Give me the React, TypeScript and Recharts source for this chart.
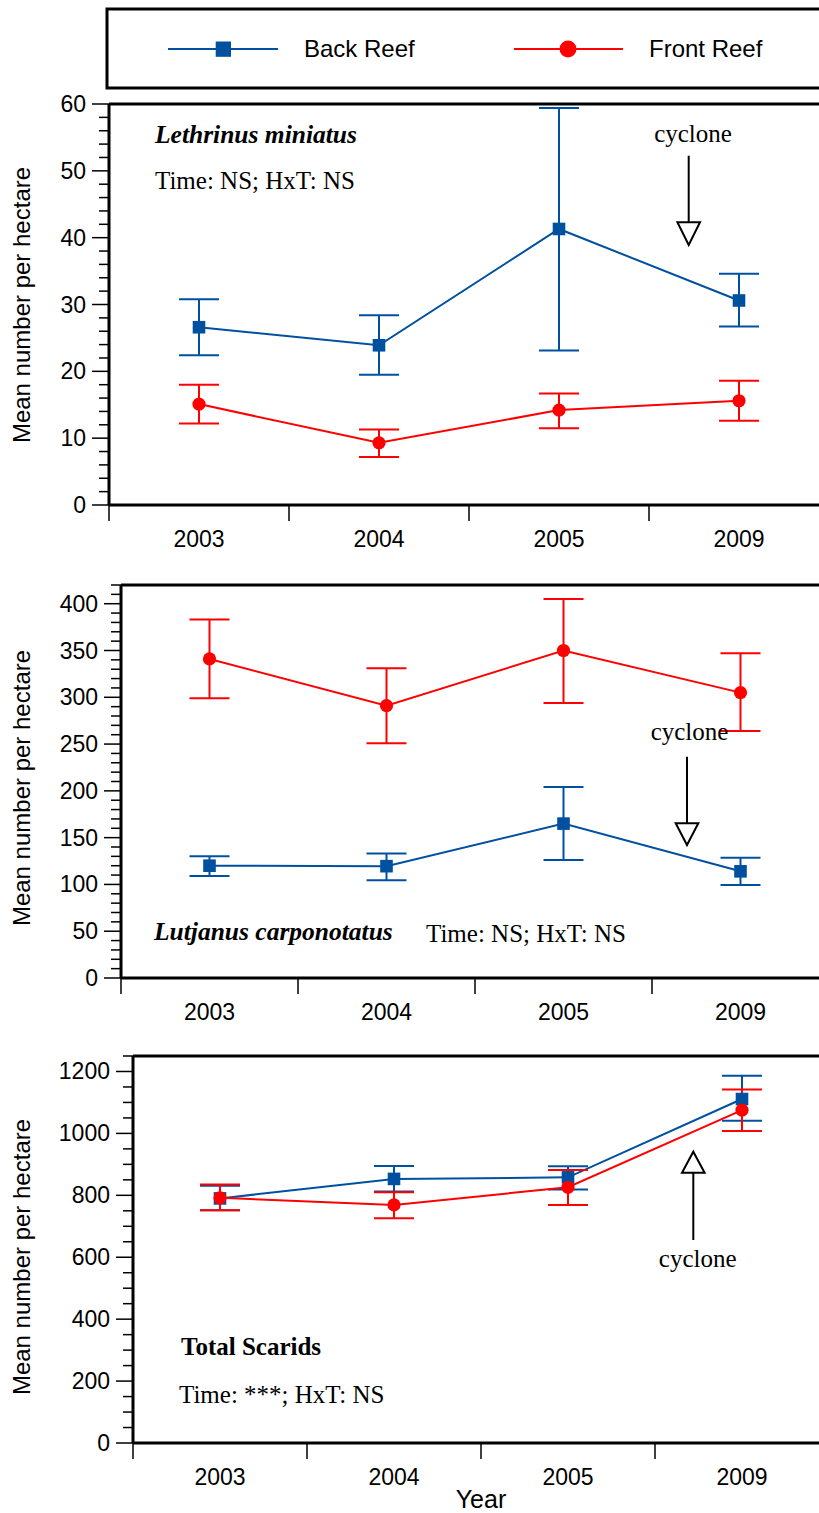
import React from 'react';
import { LineChart, Line, XAxis, YAxis, ErrorBar, ReferenceLine } from 'recharts';

const SANS = '"Liberation Sans", Arial, sans-serif';
const SERIF = '"Liberation Serif", "Times New Roman", serif';
const BLUE = '#0050A0';
const RED = '#FF0000';

const years = ['2003', '2004', '2005', '2009'];
const seriesNames = ['Back Reef', 'Front Reef'];
const yAxisTitle = 'Mean number per hectare';
const xAxisTitle = 'Year';

// Panel 1: Lethrinus miniatus
const lethBackMean = [26.6, 23.9, 41.3, 30.6];
const lethBackLow = [22.4, 19.5, 23.1, 26.7];
const lethBackHigh = [30.8, 28.4, 59.4, 34.6];
const lethFrontMean = [15.1, 9.3, 14.2, 15.6];
const lethFrontLow = [12.2, 7.2, 11.5, 12.6];
const lethFrontHigh = [18.0, 11.3, 16.7, 18.6];
const lethMajorTicks = [0, 10, 20, 30, 40, 50, 60];

// Panel 2: Lutjanus carponotatus
const lutjBackMean = [120, 119.5, 165, 114];
const lutjBackLow = [109, 104.5, 126, 99.5];
const lutjBackHigh = [130, 133, 204, 128.6];
const lutjFrontMean = [341, 291, 350, 305];
const lutjFrontLow = [299, 251, 294, 264];
const lutjFrontHigh = [383, 331, 405, 347];
const lutjMajorTicks = [0, 50, 100, 150, 200, 250, 300, 350, 400];

// Panel 3: Total Scarids
const scarBackMean = [790, 853, 858, 1111];
const scarBackLow = [752, 812, 819, 1041];
const scarBackHigh = [831, 895, 894, 1186];
const scarFrontMean = [792, 769, 826, 1075];
const scarFrontLow = [752, 726, 769, 1008];
const scarFrontHigh = [835, 810, 882, 1142];
const scarMajorTicks = [0, 200, 400, 600, 800, 1000, 1200];

const xTicks = [-0.5, 0, 0.5, 1, 1.5, 2, 2.5, 3, 3.5];

function buildRows(bm: number[], bl: number[], bh: number[], fm: number[], fl: number[], fh: number[]) {
  return years.map((y, i) => ({
    idx: i,
    year: y,
    back: bm[i],
    backErr: [bm[i] - bl[i], bh[i] - bm[i]],
    front: fm[i],
    frontErr: [fm[i] - fl[i], fh[i] - fm[i]],
  }));
}

function minorTicks(max: number, step: number) {
  const out: number[] = [];
  for (let v = 0; v <= max + 1e-9; v += step) out.push(Math.round(v * 1000) / 1000);
  return out;
}

const SquareDot = (p: any) => (
  <rect key={`sq-${p.index}`} x={p.cx - 6.3} y={p.cy - 6.3} width={12.6} height={12.6} fill={BLUE} />
);
const CircleDot = (p: any) => (
  <circle key={`ci-${p.index}`} cx={p.cx} cy={p.cy} r={6.6} fill={RED} />
);

type PanelProps = {
  data: any[];
  yMax: number;
  majors: number[];
  minorStep: number;
  plotLeft: number;
  top: number;
  marginTop: number;
  height: number;
  xAxisHeight: number;
  labelCenterY: number;
  showYear?: boolean;
};

function Panel(props: PanelProps) {
  const { data, yMax, majors, minorStep, plotLeft, top, marginTop, height, xAxisHeight, labelCenterY, showYear } = props;
  const yTicks = minorTicks(yMax, minorStep);
  const YTick = (p: any) => {
    const v = p.payload.value;
    const isMajor = majors.includes(v);
    return (
      <g>
        <line x1={p.x - (isMajor ? 17 : 10)} x2={p.x} y1={p.y} y2={p.y} stroke="#000" strokeWidth={1.5} />
        {isMajor && (
          <text x={p.x - 23} y={p.y + 8} textAnchor="end" fontSize={23} fontFamily={SANS} fill="#000">
            {v}
          </text>
        )}
      </g>
    );
  };
  const XTick = (p: any) => {
    const v = p.payload.value;
    if (Number.isInteger(v)) {
      return (
        <text x={p.x} y={p.y + 42} textAnchor="middle" fontSize={23} fontFamily={SANS} fill="#000">
          {years[v]}
        </text>
      );
    }
    return <line x1={p.x} x2={p.x} y1={p.y} y2={p.y + 16} stroke="#000" strokeWidth={1.5} />;
  };
  const YLabel = () => (
    <text
      x={30}
      y={labelCenterY - top}
      transform={`rotate(-90, 30, ${labelCenterY - top})`}
      textAnchor="middle"
      fontSize={24}
      fontFamily={SANS}
      fill="#000"
    >
      {yAxisTitle}
    </text>
  );
  const XLabel = (lp: any) => {
    const vb = lp.viewBox || { y: 0 };
    return (
      <text x={481} y={vb.y + 65} textAnchor="middle" fontSize={25} fontFamily={SANS} fill="#000">
        {xAxisTitle}
      </text>
    );
  };
  return (
    <div style={{ position: 'absolute', left: 0, top }}>
      <LineChart width={840} height={height} data={data} margin={{ top: marginTop, right: 11, bottom: 0, left: 0 }}>
        <XAxis
          dataKey="idx"
          type="number"
          domain={[-0.5, 3.5]}
          ticks={xTicks}
          interval={0}
          height={xAxisHeight}
          tickSize={0}
          tickMargin={0}
          tickLine={false}
          tick={XTick}
          axisLine={{ stroke: '#000', strokeWidth: 3 }}
          allowDataOverflow
          label={showYear ? { content: XLabel } : undefined}
        />
        <YAxis
          type="number"
          domain={[0, yMax]}
          ticks={yTicks}
          interval={0}
          width={plotLeft}
          tickSize={0}
          tickMargin={0}
          tickLine={false}
          tick={YTick}
          axisLine={{ stroke: '#000', strokeWidth: 3 }}
          allowDataOverflow
          label={{ content: YLabel }}
        />
        <ReferenceLine y={yMax} stroke="#000" strokeWidth={3} />
        <Line
          dataKey="back"
          name={seriesNames[0]}
          type="linear"
          stroke={BLUE}
          strokeWidth={2}
          dot={SquareDot}
          activeDot={false}
          isAnimationActive={false}
        >
          <ErrorBar dataKey="backErr" direction="y" width={20} stroke={BLUE} strokeWidth={2} isAnimationActive={false} />
        </Line>
        <Line
          dataKey="front"
          name={seriesNames[1]}
          type="linear"
          stroke={RED}
          strokeWidth={2}
          dot={CircleDot}
          activeDot={false}
          isAnimationActive={false}
        >
          <ErrorBar dataKey="frontErr" direction="y" width={20} stroke={RED} strokeWidth={2} isAnimationActive={false} />
        </Line>
      </LineChart>
    </div>
  );
}

const Arrow = ({ x, yLineStart, yBase, yTip }: { x: number; yLineStart: number; yBase: number; yTip: number }) => (
  <g>
    <line x1={x} x2={x} y1={yLineStart} y2={yBase} stroke="#000" strokeWidth={2} />
    <polygon points={`${x - 11.3},${yBase} ${x + 11.3},${yBase} ${x},${yTip}`} fill="#fff" stroke="#000" strokeWidth={2} />
  </g>
);

export default function App() {
  const leth = buildRows(lethBackMean, lethBackLow, lethBackHigh, lethFrontMean, lethFrontLow, lethFrontHigh);
  const lutj = buildRows(lutjBackMean, lutjBackLow, lutjBackHigh, lutjFrontMean, lutjFrontLow, lutjFrontHigh);
  const scar = buildRows(scarBackMean, scarBackLow, scarBackHigh, scarFrontMean, scarFrontLow, scarFrontHigh);

  return (
    <div style={{ position: 'absolute', left: 0, top: 0, width: 819, height: 1513, overflow: 'hidden', background: '#fff' }}>
      <Panel data={leth} yMax={60} majors={lethMajorTicks} minorStep={2} plotLeft={109} top={0} marginTop={104} height={560} xAxisHeight={55} labelCenterY={305} />
      <Panel data={lutj} yMax={420} majors={lutjMajorTicks} minorStep={10} plotLeft={121} top={560} marginTop={25} height={473} xAxisHeight={55} labelCenterY={788} />
      <Panel data={scar} yMax={1250} majors={scarMajorTicks} minorStep={50} plotLeft={133} top={1033} marginTop={23} height={485} xAxisHeight={75} labelCenterY={1257} showYear />

      <svg width={819} height={1513} style={{ position: 'absolute', left: 0, top: 0, pointerEvents: 'none' }}>
        {/* legend */}
        <rect x={107} y={9} width={760} height={79} fill="none" stroke="#000" strokeWidth={3} />
        <line x1={168} x2={278} y1={49} y2={49} stroke={BLUE} strokeWidth={2} />
        <rect x={215.7} y={41.5} width={15.3} height={15.3} fill={BLUE} />
        <text x={304} y={56.5} fontSize={24} fontFamily={SANS} fill="#000">{seriesNames[0]}</text>
        <line x1={514} x2={623} y1={49} y2={49} stroke={RED} strokeWidth={2} />
        <circle cx={568} cy={49} r={8.5} fill={RED} />
        <text x={649} y={56.5} fontSize={24} fontFamily={SANS} fill="#000">{seriesNames[1]}</text>

        {/* panel 1 */}
        <text x={155} y={143} fontSize={25.5} fontFamily={SERIF} fontWeight="bold" fontStyle="italic" fill="#000">Lethrinus miniatus</text>
        <text x={155} y={189} fontSize={25} fontFamily={SERIF} fill="#000">Time: NS; HxT: NS</text>
        <text x={693} y={141.5} textAnchor="middle" fontSize={25} fontFamily={SERIF} fill="#000">cyclone</text>
        <Arrow x={688.7} yLineStart={155.7} yBase={222.3} yTip={245} />

        {/* panel 2 */}
        <text x={154} y={940} fontSize={25.5} fontFamily={SERIF} fontWeight="bold" fontStyle="italic" fill="#000">Lutjanus carponotatus</text>
        <text x={426} y={942} fontSize={25} fontFamily={SERIF} fill="#000">Time: NS; HxT: NS</text>
        <text x={689.5} y={740} textAnchor="middle" fontSize={25} fontFamily={SERIF} fill="#000">cyclone</text>
        <Arrow x={687} yLineStart={756.7} yBase={823.3} yTip={845} />

        {/* panel 3 */}
        <text x={181} y={1355} fontSize={25} fontFamily={SERIF} fontWeight="bold" fill="#000">Total Scarids</text>
        <text x={179} y={1403} fontSize={25} fontFamily={SERIF} fill="#000">Time: ***; HxT: NS</text>
        <text x={697.7} y={1266.7} textAnchor="middle" fontSize={25} fontFamily={SERIF} fill="#000">cyclone</text>
        <Arrow x={693.3} yLineStart={1240} yBase={1172.7} yTip={1151.7} />
      </svg>
    </div>
  );
}
